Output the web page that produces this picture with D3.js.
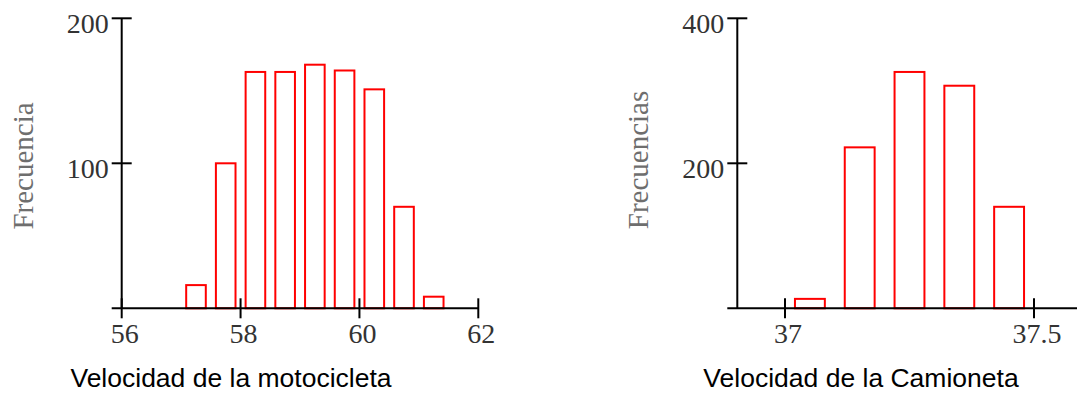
<!DOCTYPE html>
<html>
<head>
<meta charset="utf-8">
<script src="https://cdn.jsdelivr.net/npm/d3@7"></script>
<style>
  html, body { margin: 0; padding: 0; background: #fff; }
  svg { display: block; }
</style>
</head>
<body>
<div id="chart"></div>
<script>
// Motorcycle speed histogram
const motoBins = [57.25, 57.75, 58.25, 58.75, 59.25, 59.75, 60.25, 60.75, 61.25];
const motoCounts = [16, 100, 163, 163, 168, 164, 151, 70, 8];
const motoXTicks = [56, 58, 60, 62];
const motoYTicks = [100, 200];

// Pickup truck speed histogram
const truckBins = [37.05, 37.15, 37.25, 37.35, 37.45];
const truckCounts = [13, 222, 326, 307, 140];
const truckXTicks = [37, 37.5];
const truckYTicks = [200, 400];

const width = 1077, height = 394;

const svg = d3.select("#chart")
  .append("svg")
  .attr("width", width)
  .attr("height", height);

function drawPanel(opts) {
  const g = svg.append("g");
  const x = d3.scaleLinear().domain(opts.xDomain).range(opts.xRange);
  const y = d3.scaleLinear().domain(opts.yDomain).range([opts.base, opts.top]);

  // bars
  g.selectAll("rect")
    .data(opts.bins.map((b, i) => ({ b, c: opts.counts[i] })))
    .enter()
    .append("rect")
    .attr("x", d => x(d.b - opts.barW / 2))
    .attr("width", d => x(d.b + opts.barW / 2) - x(d.b - opts.barW / 2))
    .attr("y", d => y(d.c))
    .attr("height", d => y(0) - y(d.c))
    .attr("fill", "none")
    .attr("stroke", "#ff0000")
    .attr("stroke-width", 2);

  // axes lines
  g.append("line")
    .attr("x1", opts.axisX).attr("x2", opts.axisX)
    .attr("y1", opts.top).attr("y2", opts.base)
    .attr("stroke", "#000").attr("stroke-width", 2);
  g.append("line")
    .attr("x1", opts.axisX - 10).attr("x2", opts.xEnd)
    .attr("y1", opts.base).attr("y2", opts.base)
    .attr("stroke", "#000").attr("stroke-width", 2);

  // y ticks
  g.selectAll(".yt")
    .data(opts.yTicks)
    .enter()
    .append("line")
    .attr("x1", opts.axisX - 10).attr("x2", opts.axisX + 10)
    .attr("y1", d => y(d)).attr("y2", d => y(d))
    .attr("stroke", "#000").attr("stroke-width", 2);
  g.selectAll(".yl")
    .data(opts.yTicks)
    .enter()
    .append("text")
    .attr("x", opts.axisX - 13)
    .attr("y", d => y(d) + 15)
    .attr("text-anchor", "end")
    .attr("font-family", "Liberation Serif, Times New Roman, serif")
    .attr("font-size", "28px")
    .attr("fill", "#333")
    .text(d => d);

  // x ticks
  g.selectAll(".xt")
    .data(opts.xTicks)
    .enter()
    .append("line")
    .attr("x1", d => x(d)).attr("x2", d => x(d))
    .attr("y1", opts.base - 10).attr("y2", opts.base + 10)
    .attr("stroke", "#000").attr("stroke-width", 2);
  g.selectAll(".xl")
    .data(opts.xTicks)
    .enter()
    .append("text")
    .attr("x", d => x(d) + 3)
    .attr("y", opts.base + 35)
    .attr("text-anchor", "middle")
    .attr("font-family", "Liberation Serif, Times New Roman, serif")
    .attr("font-size", "28px")
    .attr("fill", "#333")
    .text(d => d);

  // y title
  g.append("text")
    .attr("transform", `translate(${opts.yTitleX},${opts.yTitleY}) rotate(-90)`)
    .attr("text-anchor", "middle")
    .attr("font-family", "Liberation Serif, Times New Roman, serif")
    .attr("font-size", "29px")
    .attr("fill", "#6e6e6e")
    .text(opts.yTitle);

  // x title
  g.append("text")
    .attr("x", opts.xTitleX)
    .attr("y", 387)
    .attr("text-anchor", "middle")
    .attr("font-family", "Liberation Sans, Arial, sans-serif")
    .attr("font-size", "26.5px")
    .attr("fill", "#000")
    .text(opts.xTitle);
}

drawPanel({
  bins: motoBins, counts: motoCounts, barW: 0.33,
  xDomain: [56, 62], xRange: [121.7, 478.3], xEnd: 478.3,
  yDomain: [0, 200], top: 18.3, base: 308.3, axisX: 121.7,
  xTicks: motoXTicks, yTicks: motoYTicks,
  yTitle: "Frecuencia", yTitleX: 33, yTitleY: 166,
  xTitle: "Velocidad de la motocicleta", xTitleX: 231
});

drawPanel({
  bins: truckBins, counts: truckCounts, barW: 0.06,
  xDomain: [37, 37.5], xRange: [785, 1034], xEnd: 1077,
  yDomain: [0, 400], top: 18.3, base: 308.3, axisX: 737.3,
  xTicks: truckXTicks, yTicks: truckYTicks,
  yTitle: "Frecuencias", yTitleX: 648, yTitleY: 160,
  xTitle: "Velocidad de la Camioneta", xTitleX: 861
});
</script>
</body>
</html>
